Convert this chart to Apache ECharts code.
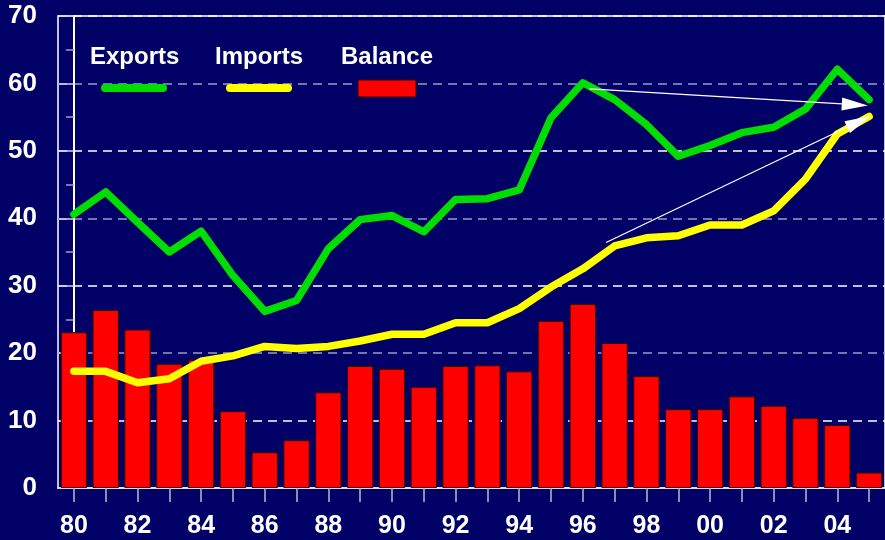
<!DOCTYPE html>
<html>
<head>
<meta charset="utf-8">
<script src="https://cdn.jsdelivr.net/npm/echarts@6/dist/echarts.min.js"></script>
<style>
html,body{margin:0;padding:0;background:#000066;}
#c{width:885px;height:540px;}
</style>
</head>
<body>
<div id="c"></div>
<script>
const years = ['80','81','82','83','84','85','86','87','88','89','90','91','92','93','94','95','96','97','98','99','00','01','02','03','04','05'];
const exportsData = [40.6,43.9,39.4,35.0,38.1,31.5,26.2,27.8,35.5,39.8,40.4,38.0,42.8,42.9,44.2,54.9,60.1,57.6,53.9,49.2,50.8,52.7,53.5,56.2,62.1,57.6];
const importsData = [17.3,17.3,15.6,16.2,18.8,19.6,21.0,20.7,21.0,21.8,22.8,22.8,24.5,24.5,26.6,29.8,32.5,35.9,37.1,37.4,39.0,39.0,41.1,45.8,52.5,55.1];
const balanceData = [23.1,26.4,23.5,18.4,19.0,11.4,5.3,7.1,14.2,18.1,17.7,15.0,18.1,18.2,17.3,24.8,27.3,21.5,16.6,11.7,11.7,13.6,12.2,10.4,9.35,2.3];
const yTicks = {min:0, max:70, interval:10};
// annotation arrows: [startIndex, startValue, endIndex, endValue] (category index units)
const arrowExports = [16.21, 59.2, 24.55, 56.85];
const arrowImports = [16.73, 36.4, 24.68, 54.35];

const font = 'Liberation Sans, Arial, sans-serif';
const chart = echarts.init(document.getElementById('c'), null, {renderer:'canvas'});
chart.setOption({
  backgroundColor:'#000066',
  animation:false,
  grid:{left:58, top:16, right:-6, bottom:52, show:true, borderColor:'#ffffff', borderWidth:1.5, backgroundColor:'transparent'},
  xAxis:[{
    type:'category', data:years, boundaryGap:true,
    axisLine:{lineStyle:{color:'#e0e0f0', width:2}},
    axisTick:{show:true, alignWithLabel:true, interval:0, length:14, lineStyle:{color:'#b8b8d8', width:1.5}},
    axisLabel:{interval:1, color:'#ffffff', fontFamily:font, fontWeight:'bold', fontSize:25, margin:26},
    splitLine:{show:false}
  },{
    type:'value', min:-0.5, max:25.5, show:false
  }],
  yAxis:{
    type:'value', min:yTicks.min, max:yTicks.max, interval:yTicks.interval,
    axisLine:{show:true, lineStyle:{color:'#ffffff', width:2}},
    axisTick:{show:true, length:15, lineStyle:{color:'#d0d0e8', width:1.5}},
    minorTick:{show:true, splitNumber:2, length:8, lineStyle:{color:'#a0a0c8', width:1.5}},
    axisLabel:{color:'#ffffff', fontFamily:font, fontWeight:'bold', fontSize:26, margin:21},
    splitLine:{show:true, lineStyle:{color:['#9a9ac8','#ffffff'], type:[9,6], width:1.5}}
  },
  series:[
    {name:'Balance', type:'bar', data:balanceData, barWidth:'83%', z:2,
     itemStyle:{color:'#ff0000', borderColor:'#300000', borderWidth:1}},
    {name:'Imports', type:'line', data:importsData, symbol:'none', z:3,
     lineStyle:{color:'#ffff00', width:7.5, join:'round', cap:'round'}},
    {name:'Exports', type:'line', data:exportsData, symbol:'none', z:4,
     lineStyle:{color:'#00dd00', width:7.5, join:'round', cap:'round'}},
    {name:'arrows', type:'line', xAxisIndex:1, data:[], z:10,
     markLine:{silent:true, animation:false, symbol:['none','triangle'], symbolSize:[13,26],
       label:{show:false}, lineStyle:{color:'#ffffff', width:1.2, type:'solid'},
       itemStyle:{color:'#ffffff'},
       data:[
         [{coord:[arrowExports[0],arrowExports[1]]},{coord:[arrowExports[2],arrowExports[3]]}],
         [{coord:[arrowImports[0],arrowImports[1]]},{coord:[arrowImports[2],arrowImports[3]]}]
       ]}}
  ],
  graphic:[
    {type:'text', left:90, top:45, z:20, style:{text:'Exports', fill:'#ffffff', font:'bold 24px '+font}},
    {type:'text', left:215, top:45, z:20, style:{text:'Imports', fill:'#ffffff', font:'bold 24px '+font}},
    {type:'text', left:341, top:45, z:20, style:{text:'Balance', fill:'#ffffff', font:'bold 24px '+font}},
    {type:'line', z:20, shape:{x1:105, y1:88, x2:163, y2:88}, style:{stroke:'#00dd00', lineWidth:8, lineCap:'round'}},
    {type:'line', z:20, shape:{x1:230, y1:88, x2:288, y2:88}, style:{stroke:'#ffff00', lineWidth:8, lineCap:'round'}},
    {type:'rect', z:20, shape:{x:358, y:80, width:58, height:17}, style:{fill:'#ff0000', stroke:'#300000', lineWidth:1}}
  ]
});
</script>
</body>
</html>
